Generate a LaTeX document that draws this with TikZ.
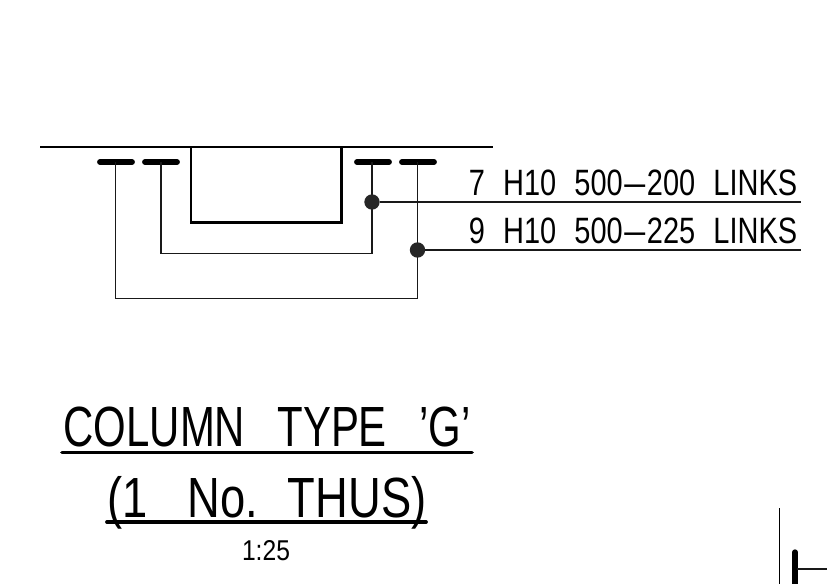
\documentclass[tikz,border=0pt]{standalone}
\usepackage{fontspec}
\setmainfont{Liberation Sans}
\usetikzlibrary{positioning}

\newcommand{\gapN}{\ \ \hspace{2pt}}
\newcommand{\gapT}{\ \ \hspace{9pt}}
\newcommand{\dashN}{\kern1.5pt\scalebox{1.3}[1]{--}\kern1.5pt}

\begin{document}
\begin{tikzpicture}[
        x=0.75pt, y=-0.75pt,
        every node/.style={inner sep=0pt, outer sep=0pt, anchor=base},
        bar/.style={line width=4.4pt, line cap=round},
        link/.style={line width=1.1pt, black!90},
        heavy/.style={line width=1.8pt},
        rule/.style={line width=2.8pt, line cap=round},
        dot/.style={circle, fill=black!85, minimum size=11.5pt},
        note/.style={font=\fontsize{27.5}{27.5}\selectfont, xscale=0.79},
        title/.style={font=\fontsize{42.5}{42.5}\selectfont, xscale=0.74},
        thus/.style={font=\fontsize{42.5}{42.5}\selectfont, xscale=0.80},
        scalenote/.style={font=\fontsize{21.5}{21.5}\selectfont, xscale=0.86}
    ]
        \useasboundingbox (0,0) rectangle (827,584);

        % Column outline
        \coordinate (faceL) at (40,147);
        \coordinate (faceR) at (493,147);
        \draw[line width=1.1pt] (faceL) -- (faceR);
        \node [draw, heavy, minimum width=113pt, minimum height=56.5pt, anchor=north west](column) at (191,147) {};

        % Main bars
        \coordinate (barA1) at (100,162); \coordinate (barA2) at (132,162);
        \coordinate (barB1) at (145,162); \coordinate (barB2) at (177,162);
        \coordinate (barC1) at (357,162); \coordinate (barC2) at (389,162);
        \coordinate (barD1) at (402,162); \coordinate (barD2) at (434,162);
        \draw[bar] (barA1) -- (barA2);
        \draw[bar] (barB1) -- (barB2);
        \draw[bar] (barC1) -- (barC2);
        \draw[bar] (barD1) -- (barD2);

        % Links
        \coordinate (stemA) at (115.5,162);
        \coordinate (stemB) at (161,162);
        \coordinate (stemC) at (372,162);
        \coordinate (stemD) at (417.5,162);
        \draw[link] (stemB) -- (161,253.5) -- (372,253.5) -- (stemC);
        \draw[link] (stemA) -- (115.5,298.5) -- (417.5,298.5) -- (stemD);

        % Leaders
        \node [dot, anchor=center](dot1) at (372,202) {};
        \node [dot, anchor=center](dot2) at (417.5,250) {};
        \coordinate (end1) at (801,202);
        \coordinate (end2) at (801,250);
        \draw[link] (dot1) -- (end1);
        \draw[link] (dot2) -- (end2);

        % Labels
        \node [note](label1) at (633,196) {7\gapN H10\gapN 500\dashN 200\gapN LINKS};
        \node [note](label2) at (633,244) {9\gapN H10\gapN 500\dashN 225\gapN LINKS};

        % Title
        \node [title](title1) at (267,446) {COLUMN\gapT TYPE\gapT 'G'};
        \node [thus](title2) at (267,517) {(1\gapT\hspace{5pt}No.\ \ \hspace{4pt}THUS)};
        \coordinate (rule1L) at (62,452.5); \coordinate (rule1R) at (472,452.5);
        \coordinate (rule2L) at (107,522); \coordinate (rule2R) at (426,522);
        \draw[rule] (rule1L) -- (rule1R);
        \draw[rule] (rule2L) -- (rule2R);
        \node [scalenote](scale) at (266,560) {1:25};

        % Next detail at the corner
        \coordinate (edgeT) at (779.5,508); \coordinate (edgeB) at (779.5,584);
        \coordinate (nextT) at (795,552); \coordinate (nextB) at (795,586);
        \coordinate (nextL) at (797,569); \coordinate (nextR) at (827,569);
        \draw[line width=1.1pt] (edgeT) -- (edgeB);
        \draw[line width=4pt, line cap=round] (nextT) -- (nextB);
        \draw[link] (nextL) -- (nextR);
    \end{tikzpicture}
\end{document}
